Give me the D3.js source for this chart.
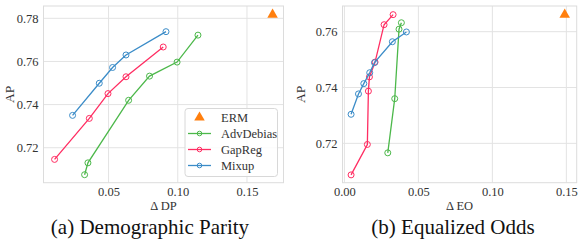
<!DOCTYPE html>
<html>
<head>
<meta charset="utf-8">
<script src="https://cdn.jsdelivr.net/npm/d3@7"></script>
<style>
  body { margin: 0; background: #fff; }
  svg text { font-family: "Liberation Serif", "Times New Roman", Times, "DejaVu Serif", serif !important; fill: #333; }
</style>
</head>
<body>
<svg id="chart" width="581" height="246"></svg>
<script>
// legend order / colours
var methods = ["AdvDebias", "GapReg", "Mixup"];
var colors = { AdvDebias: "#4cb84a", GapReg: "#ff2d62", Mixup: "#3b8cc8", ERM: "#ff7f0e" };

// (a) demographic parity: [dDP, AP]
var dpAdv = [[0.0327, 0.7075], [0.0351, 0.7130], [0.0645, 0.7420], [0.0796, 0.7532], [0.0995, 0.7597], [0.1146, 0.7722]];
var dpGap = [[0.0110, 0.7146], [0.0361, 0.7336], [0.0496, 0.7451], [0.0626, 0.7529], [0.0895, 0.7667]];
var dpMix = [[0.0240, 0.7350], [0.0433, 0.7499], [0.0529, 0.7572], [0.0626, 0.7630], [0.0915, 0.7738]];
var dpErm = [0.1685, 0.7817];

// (b) equalized odds: [dEO, AP]
var eoAdv = [[0.0293, 0.7166], [0.0340, 0.7360], [0.0369, 0.7609], [0.0385, 0.7632]];
var eoGap = [[0.0045, 0.7087], [0.0155, 0.7196], [0.0162, 0.7387], [0.0169, 0.7438], [0.0207, 0.7491], [0.0268, 0.7625], [0.0329, 0.7661]];
var eoMix = [[0.0045, 0.7304], [0.0095, 0.7377], [0.0131, 0.7414], [0.0171, 0.7453], [0.0203, 0.7489], [0.0324, 0.7564], [0.0419, 0.7599]];
var eoErm = [0.1489, 0.7661];

var dpXTicks = [0.05, 0.10, 0.15];
var eoXTicks = [0.00, 0.05, 0.10, 0.15];
var dpYTicks = [0.72, 0.74, 0.76, 0.78];
var eoYTicks = [0.72, 0.74, 0.76];

var svg = d3.select("#chart");

function panel(opt) {
  var x = d3.scaleLinear().domain(opt.xDomain).range([opt.left, opt.right]);
  var y = d3.scaleLinear().domain(opt.yDomain).range([opt.bottom, opt.top]);
  var g = svg.append("g");

  // grid
  g.selectAll(".gx").data(opt.xTicks).enter().append("line")
    .attr("x1", d => x(d)).attr("x2", d => x(d))
    .attr("y1", opt.top).attr("y2", opt.bottom)
    .attr("stroke", "#e3e3e3").attr("stroke-width", 1);
  g.selectAll(".gy").data(opt.yTicks).enter().append("line")
    .attr("y1", d => y(d)).attr("y2", d => y(d))
    .attr("x1", opt.left).attr("x2", opt.right)
    .attr("stroke", "#e3e3e3").attr("stroke-width", 1);

  // frame
  g.append("rect")
    .attr("x", opt.left).attr("y", opt.top)
    .attr("width", opt.right - opt.left).attr("height", opt.bottom - opt.top)
    .attr("fill", "none").attr("stroke", "#dcdcdc").attr("stroke-width", 1);

  // axes (labels only)
  var xAxis = d3.axisBottom(x).tickValues(opt.xTicks).tickSize(0).tickPadding(4)
    .tickFormat(d3.format(".2f"));
  var gx = g.append("g").attr("transform", "translate(0," + opt.bottom + ")").call(xAxis);
  gx.select(".domain").remove();
  gx.selectAll("text").attr("font-size", 12.5).attr("fill", "#333");

  var yAxis = d3.axisLeft(y).tickValues(opt.yTicks).tickSize(0).tickPadding(5)
    .tickFormat(d3.format(".2f"));
  var gy = g.append("g").attr("transform", "translate(" + opt.left + ",0)").call(yAxis);
  gy.select(".domain").remove();
  gy.selectAll("text").attr("font-size", 12.5).attr("fill", "#333");

  g.append("text").attr("x", (opt.left + opt.right) / 2).attr("y", 210)
    .attr("text-anchor", "middle").attr("font-size", 12.5).text(opt.xLabel);
  g.append("text").attr("transform", "translate(" + opt.yLabelX + "," + ((opt.top + opt.bottom) / 2) + ") rotate(-90)")
    .attr("text-anchor", "middle").attr("font-size", 13.5).text("AP");
  g.append("text").attr("x", opt.captionX).attr("y", 234)
    .attr("text-anchor", "middle").attr("font-size", 21).style("fill", "#111").text(opt.caption);

  var line = d3.line().x(d => x(d[0])).y(d => y(d[1]));
  methods.forEach(function (m, i) {
    var data = opt.series[i];
    g.append("path").datum(data).attr("d", line)
      .attr("fill", "none").attr("stroke", colors[m]).attr("stroke-width", 1.3);
    g.selectAll(".pt" + m).data(data).enter().append("circle")
      .attr("cx", d => x(d[0])).attr("cy", d => y(d[1])).attr("r", 3)
      .attr("fill", "none").attr("stroke", colors[m]).attr("stroke-width", 1);
  });

  var e = opt.erm, ex = x(e[0]), ey = y(e[1]);
  g.append("path").attr("d", d3.symbol(d3.symbolTriangle, 48)())
    .attr("transform", "translate(" + ex + "," + ey + ")")
    .attr("fill", colors.ERM);

  return { x: x, y: y, g: g };
}

var pa = panel({
  left: 43.5, right: 283.5, top: 6, bottom: 182.7,
  xDomain: [0.003, 0.1764], yDomain: [0.7038, 0.7857],
  xTicks: dpXTicks, yTicks: dpYTicks,
  series: [dpAdv, dpGap, dpMix], erm: dpErm,
  xLabel: "\u0394 DP", caption: "(a) Demographic Parity", captionX: 150, yLabelX: 14
});

panel({
  left: 342.5, right: 576.7, top: 6, bottom: 182.7,
  xDomain: [-0.0013, 0.157], yDomain: [0.7059, 0.7692],
  xTicks: eoXTicks, yTicks: eoYTicks,
  series: [eoAdv, eoGap, eoMix], erm: eoErm,
  xLabel: "\u0394 EO", caption: "(b) Equalized Odds", captionX: 453, yLabelX: 305
});

// legend in panel (a)
var lg = pa.g.append("g");
lg.append("rect").attr("x", 185).attr("y", 108.5).attr("width", 92.5).attr("height", 68)
  .attr("rx", 3).attr("fill", "#fff").attr("fill-opacity", 0.85)
  .attr("stroke", "#d8d8d8").attr("stroke-width", 1);
var items = ["ERM"].concat(methods);
items.forEach(function (m, i) {
  var yy = 117.5 + i * 16;
  if (m === "ERM") {
    lg.append("path").attr("d", d3.symbol(d3.symbolTriangle, 48)())
      .attr("transform", "translate(199.5," + yy + ")").attr("fill", colors.ERM);
  } else {
    lg.append("line").attr("x1", 188).attr("x2", 211).attr("y1", yy).attr("y2", yy)
      .attr("stroke", colors[m]).attr("stroke-width", 1.3);
    lg.append("circle").attr("cx", 199.5).attr("cy", yy).attr("r", 2.3)
      .attr("fill", "none").attr("stroke", colors[m]).attr("stroke-width", 1);
  }
  lg.append("text").attr("x", 221).attr("y", yy + 4.3).attr("font-size", 12.5).text(m);
});
</script>
</body>
</html>
